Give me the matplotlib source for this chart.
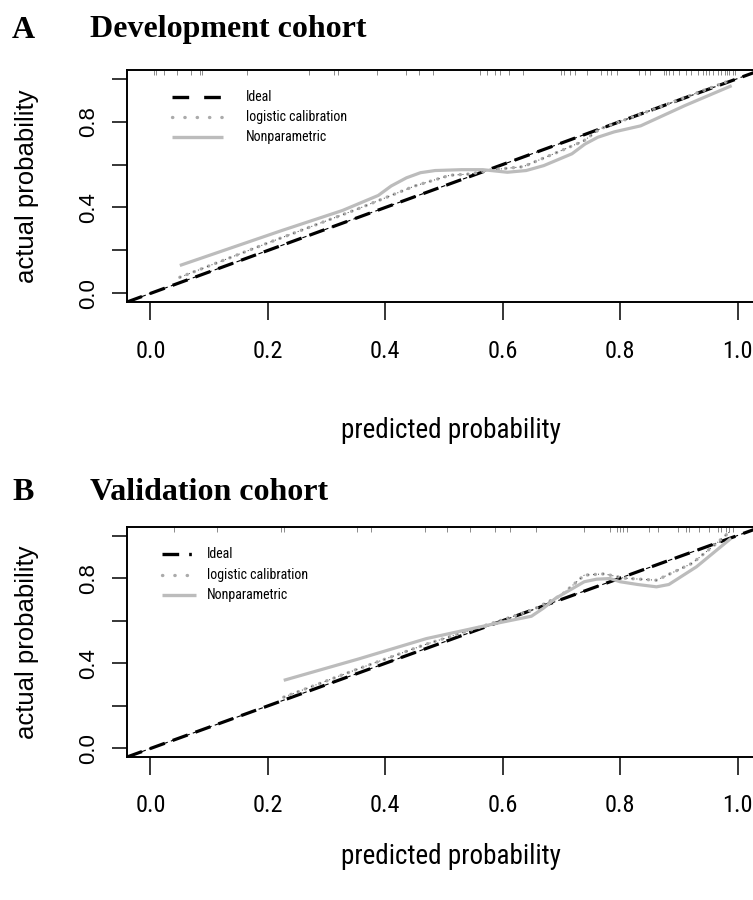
import matplotlib
matplotlib.use("Agg")
import matplotlib.pyplot as plt
from matplotlib.lines import Line2D
import matplotlib.transforms as mtransforms
from matplotlib import font_manager

# ---------------- data ----------------
panel_letters = ["A", "B"]
panel_titles = ["Development cohort", "Validation cohort"]
legend_labels = ["Ideal", "logistic calibration", "Nonparametric"]
x_ticks = [0.0, 0.2, 0.4, 0.6, 0.8, 1.0]
x_ticklabels = ["0.0", "0.2", "0.4", "0.6", "0.8", "1.0"]
y_ticks = [0.0, 0.2, 0.4, 0.6, 0.8, 1.0]
y_ticklabels = ["0.0", "", "0.4", "", "0.8", ""]
ideal_x = [-0.04, 1.04]
ideal_y = [-0.04, 1.04]

dev_np_x = [0.05, 0.224, 0.327, 0.388, 0.41, 0.436, 0.46, 0.485, 0.53, 0.566, 0.608, 0.64, 0.67,
            0.718, 0.74, 0.762, 0.79, 0.835, 0.91, 0.99]
dev_np_y = [0.13, 0.293, 0.386, 0.456, 0.50, 0.538, 0.562, 0.572, 0.576, 0.576, 0.564, 0.572, 0.595,
            0.65, 0.695, 0.727, 0.752, 0.78, 0.874, 0.967]
dev_lc_x = [0.05, 0.2, 0.35, 0.45, 0.51, 0.545, 0.58, 0.635, 0.70, 0.738, 0.765, 0.85, 0.986]
dev_lc_y = [0.075, 0.235, 0.39, 0.50, 0.55, 0.556, 0.575, 0.59, 0.665, 0.71, 0.765, 0.85, 0.99]
dev_rug = [0.006, 0.010, 0.023, 0.045, 0.069, 0.084, 0.088, 0.165, 0.270, 0.313, 0.320, 0.386, 0.435,
           0.457, 0.482, 0.561, 0.573, 0.587, 0.595, 0.611, 0.635, 0.700, 0.704, 0.714, 0.723, 0.743,
           0.768, 0.777, 0.785, 0.794, 0.833, 0.842, 0.851, 0.874, 0.879, 0.884, 0.890, 0.901, 0.913,
           0.921, 0.933, 0.941, 0.947, 0.952, 0.958, 0.967, 0.972, 0.978, 0.982, 0.986, 0.992, 0.996]

val_np_x = [0.227, 0.354, 0.47, 0.588, 0.649, 0.67, 0.69, 0.739, 0.76, 0.783, 0.80, 0.83, 0.862, 0.883,
            0.93, 0.989]
val_np_y = [0.32, 0.42, 0.516, 0.587, 0.621, 0.66, 0.705, 0.783, 0.795, 0.798, 0.783, 0.77, 0.759, 0.77,
            0.853, 0.987]
val_lc_x = [0.227, 0.35, 0.47, 0.59, 0.65, 0.70, 0.739, 0.773, 0.806, 0.862, 0.923, 0.965, 0.99]
val_lc_y = [0.241, 0.37, 0.49, 0.595, 0.65, 0.72, 0.814, 0.82, 0.80, 0.79, 0.87, 0.965, 1.026]
val_rug = [0.040, 0.113, 0.223, 0.227, 0.352, 0.376, 0.468, 0.505, 0.545, 0.587, 0.612, 0.656, 0.738,
           0.782, 0.794, 0.799, 0.805, 0.811, 0.850, 0.864, 0.898, 0.913, 0.918, 0.935, 0.952, 0.967,
           0.972, 0.981, 0.985, 0.992]

panels = [
    (dev_np_x, dev_np_y, dev_lc_x, dev_lc_y, dev_rug),
    (val_np_x, val_np_y, val_lc_x, val_lc_y, val_rug),
]

# ---------------- style ----------------
available = {f.name for f in font_manager.fontManager.ttflist}
condensed = [n for n in ["Liberation Sans Narrow", "Roboto Condensed", "Open Sans Condensed",
                         "Noto Sans Display", "DejaVu Sans Condensed"] if n in available]
NARROW = condensed[:1] + ["Liberation Sans", "DejaVu Sans"]
SANS = ["Liberation Sans", "DejaVu Sans"]
SERIF = ["Liberation Serif", "DejaVu Serif"]
NP_COLOR = "#bcbcbc"
LC_COLOR = "#ababab"
narrow_stretch = "condensed"

fig = plt.figure(figsize=(7.53, 9.0), dpi=100)

W, H = 753.0, 900.0
ax_left, ax_right = 127 / W, 761 / W
boxes = [(70, 302), (527, 757)]
title_y = [30, 493]
xlabel_y = [431, 857]
legend_rows = [[97, 117, 137], [554, 575, 595]]
legend_handle = [(172, 223), (162, 196)]
legend_text_x = [246, 207]

for i, (npx, npy, lcx, lcy, rug) in enumerate(panels):
    top, bot = boxes[i]
    ax = fig.add_axes([ax_left, 1 - bot / H, ax_right - ax_left, (bot - top) / H])
    ax.set_xlim(-0.04, 1.04)
    ax.set_ylim(-0.04, 1.04)

    ax.plot(ideal_x, ideal_y, color="black", lw=0.8, dashes=(4, 3), zorder=3)
    ax.plot(ideal_x, ideal_y, color="black", lw=2.3, dashes=(5.0, 2.6),
            dash_capstyle="butt", zorder=3)
    ax.plot(lcx, lcy, color=LC_COLOR, lw=2.4, linestyle=(0, (0.1, 2.2)),
            dash_capstyle="round", zorder=4)
    ax.plot(lcx, lcy, color="#444444", lw=0.7, linestyle=(0, (1, 4)), zorder=4)
    ax.plot(npx, npy, color=NP_COLOR, lw=2.3, solid_capstyle="butt",
            solid_joinstyle="round", zorder=5)

    trans = mtransforms.blended_transform_factory(ax.transData, ax.transAxes)
    rug_len = 5.0 / (bot - top)
    ax.vlines(rug, 1 - rug_len, 1, transform=trans, color="#8a8a8a", lw=0.7, zorder=2)

    for s in ax.spines.values():
        s.set_linewidth(1.4)
    ax.set_xticks(x_ticks)
    ax.set_xticklabels(x_ticklabels, family=NARROW, fontsize=17.5, stretch=narrow_stretch)
    ax.set_yticks(y_ticks)
    ax.set_yticklabels(y_ticklabels, family=SANS, fontsize=16, rotation=90, va="center")
    ax.tick_params(axis="x", length=13, width=1.1, pad=14, direction="out")
    ax.tick_params(axis="y", length=11, width=1.1, pad=9, direction="out")

    fig.text(27 / W, 1 - ((top + bot) / 2) / H, "actual probability", rotation=90,
             ha="center", va="center", family=SANS, fontsize=18.5)
    fig.text(451 / W, 1 - xlabel_y[i] / H, "predicted probability", ha="center",
             va="center", family=NARROW, fontsize=19.5, stretch=narrow_stretch)
    fig.text(12 / W, 1 - title_y[i] / H, panel_letters[i], ha="left", va="center",
             family=SERIF, fontweight="bold", fontsize=23)
    fig.text(90 / W, 1 - title_y[i] / H, panel_titles[i], ha="left", va="center",
             family=SERIF, fontweight="bold", fontsize=23)

    hx0, hx1 = legend_handle[i]
    rows = legend_rows[i]
    ideal_dash = (5.0, 4.5) if i == 0 else (5.0, 3.0, 0.8, 3.0)
    styles = [
        dict(color="black", lw=2.4, dashes=ideal_dash, dash_capstyle="butt"),
        dict(color=LC_COLOR, lw=2.4, linestyle=(0, (0.1, 3.6)), dash_capstyle="round"),
        dict(color=NP_COLOR, lw=2.4, solid_capstyle="butt"),
    ]
    for r, lab, st in zip(rows, legend_labels, styles):
        yy = 1 - r / H
        fig.add_artist(Line2D([hx0 / W, hx1 / W], [yy, yy], transform=fig.transFigure, **st))
        fig.text(legend_text_x[i] / W, yy, lab, ha="left", va="center", family=NARROW,
                 fontsize=10, stretch=narrow_stretch)

fig.savefig("out.png", dpi=100)
